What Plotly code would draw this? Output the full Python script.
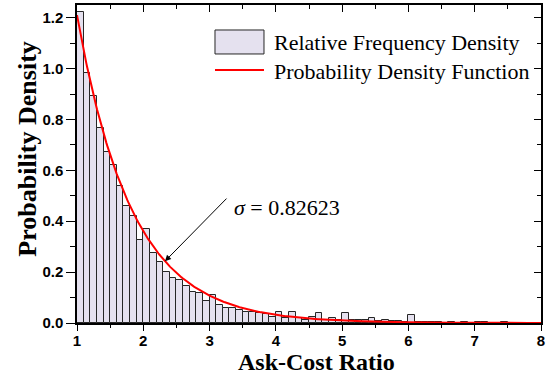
import numpy as np
import plotly.graph_objects as go

# ---- data ----
bin_width = 0.1
bin_start = 1.0
rel_freq_density = [
    1.223, 0.982, 0.892, 0.768, 0.673, 0.622, 0.539, 0.460, 0.420, 0.326,
    0.369, 0.277, 0.241, 0.200, 0.177, 0.171, 0.145, 0.120, 0.116, 0.086,
    0.112, 0.070, 0.059, 0.060, 0.053, 0.044, 0.043, 0.040, 0.037, 0.025,
    0.043, 0.020, 0.045, 0.020, 0.012, 0.024, 0.038, 0.012, 0.020, 0.010,
    0.038, 0.011, 0.012, 0.012, 0.020, 0.009, 0.010, 0.009, 0.006, 0.005,
    0.030, 0.004, 0.003, 0.002, 0.003, 0.001, 0.002, 0.001, 0.002, 0.001,
    0.002, 0.003, 0.001, 0.001, 0.002, 0.001,
]
sigma = 0.82623
x_min, x_max = 1.0, 8.0
y_min, y_max = 0.0, 1.25
x_ticks = [1, 2, 3, 4, 5, 6, 7, 8]
x_tick_text = ["1", "2", "3", "4", "5", "6", "7", "8"]
y_ticks = [0.0, 0.2, 0.4, 0.6, 0.8, 1.0, 1.2]
y_tick_text = ["0.0", "0.2", "0.4", "0.6", "0.8", "1.0", "1.2"]
legend_labels = ["Relative Frequency Density", "Probability Density Function"]
x_title = "Ask-Cost Ratio"
y_title = "Probability Density"
arrow_x = 2.327
arrow_tail = (3.278, 0.495)
label_pos = (3.338, 0.453)

centers = bin_start + bin_width * (np.arange(len(rel_freq_density)) + 0.5)
xs = np.linspace(x_min, x_max, 600)
pdf = lambda x: (1.0 / sigma) * np.exp(-(x - 1.0) / sigma)

BAR_FILL = "#E5E1EF"
BAR_LINE = "#262626"
RED = "#FF0000"

fig = go.Figure()
fig.add_trace(go.Bar(x=centers, y=rel_freq_density, width=bin_width,
                     marker=dict(color=BAR_FILL, line=dict(color=BAR_LINE, width=1)),
                     name=legend_labels[0], showlegend=False))
fig.add_trace(go.Scatter(x=xs, y=pdf(xs), mode="lines",
                         line=dict(color=RED, width=2),
                         name=legend_labels[1], showlegend=False))
# helper trace for mirrored (inward-tick) axes
fig.add_trace(go.Scatter(x=[x_min], y=[y_min], xaxis="x2", yaxis="y2", mode="markers",
                         marker=dict(opacity=0, size=1),
                         showlegend=False, hoverinfo="skip"))

tickfont = dict(family="Liberation Sans", size=15, color="black", weight="bold")
titlefont = dict(family="Liberation Serif", size=24, color="black", weight="bold")

common = dict(showgrid=False, zeroline=False, automargin=False, tickcolor="black",
              showline=True, linecolor="black", linewidth=1.5, tickwidth=1.2)

fig.update_layout(
    width=554, height=379,
    margin=dict(l=77, r=13, t=5, b=56, autoexpand=False),
    paper_bgcolor="white", plot_bgcolor="white",
    bargap=0,
    xaxis=dict(range=[x_min, x_max], tickmode="array", tickvals=x_ticks, ticktext=x_tick_text,
               ticks="outside", ticklen=6, tickfont=tickfont, ticklabelstandoff=-3,
               minor=dict(ticks="outside", ticklen=3, dtick=0.5, tickcolor="black", tickwidth=1),
               **common),
    yaxis=dict(range=[y_min, y_max], tickmode="array", tickvals=y_ticks, ticktext=y_tick_text,
               ticks="outside", ticklen=9, tickfont=tickfont, ticklabelstandoff=0,
               minor=dict(ticks="outside", ticklen=5, dtick=0.1, tickcolor="black", tickwidth=1),
               **common),
    xaxis2=dict(range=[x_min, x_max], overlaying="x", side="top", tickmode="array",
                tickvals=x_ticks, ticks="inside", ticklen=7, showticklabels=False,
                minor=dict(ticks="inside", ticklen=4, dtick=0.5, tickcolor="black"), **common),
    yaxis2=dict(range=[y_min, y_max], overlaying="y", side="right", tickmode="array",
                tickvals=y_ticks, ticks="inside", ticklen=7, showticklabels=False,
                minor=dict(ticks="inside", ticklen=4, dtick=0.1, tickcolor="black"), **common),
)

# axis titles
fig.add_annotation(xref="paper", yref="paper", x=0.516, y=-0.1226, text=x_title,
                   showarrow=False, xanchor="center", yanchor="middle", font=titlefont)
fig.add_annotation(xref="paper", yref="paper", x=-0.1056, y=0.545, text=y_title,
                   textangle=-90, showarrow=False, xanchor="center", yanchor="middle",
                   font=dict(titlefont, size=26))

# custom legend (large patch like the original)
fig.add_shape(type="rect", xref="paper", yref="paper", x0=0.2974, x1=0.403,
              y0=0.846, y1=0.9214, fillcolor=BAR_FILL, line=dict(color=BAR_LINE, width=1))
fig.add_shape(type="line", xref="paper", yref="paper", x0=0.2974, x1=0.403,
              y0=0.7956, y1=0.7956, line=dict(color=RED, width=2))
legfont = dict(family="Liberation Serif", size=22, color="black")
fig.add_annotation(xref="paper", yref="paper", x=0.421, y=0.8836, text=legend_labels[0],
                   showarrow=False, xanchor="left", yanchor="middle", font=legfont)
fig.add_annotation(xref="paper", yref="paper", x=0.421, y=0.7903, text=legend_labels[1],
                   showarrow=False, xanchor="left", yanchor="middle", font=legfont)

# sigma annotation with arrow
fig.add_annotation(x=arrow_x, y=float(pdf(arrow_x)), ax=arrow_tail[0], ay=arrow_tail[1],
                   axref="x", ayref="y", xref="x", yref="y", text="",
                   showarrow=True, arrowhead=2, arrowsize=1.2, arrowwidth=1, arrowcolor="black")
fig.add_annotation(x=label_pos[0], y=label_pos[1], xref="x", yref="y",
                   text="<i>σ</i> = %.5f" % sigma, showarrow=False,
                   xanchor="left", yanchor="middle",
                   font=dict(family="Liberation Serif", size=22, color="black"))

fig.write_html("out.html", post_script="document.body.style.margin='0';",
               config={"displayModeBar": False})
